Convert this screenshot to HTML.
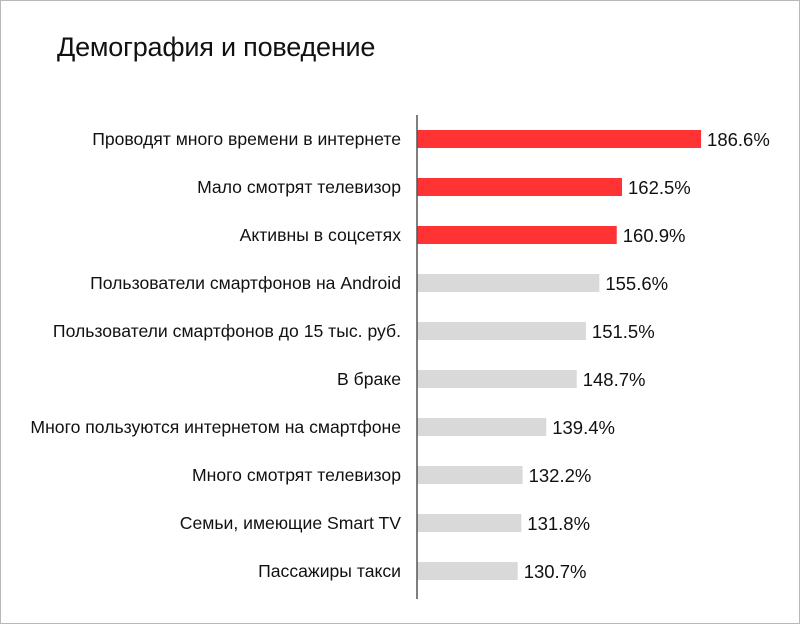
<!DOCTYPE html>
<html><head><meta charset="utf-8"><style>
body{margin:0;background:#fff}
#wrap{position:relative;width:798px;height:622px;border:1px solid #b8b8b8;background:#fff;overflow:hidden;font-family:"Liberation Sans",sans-serif}
#title{position:absolute;left:56px;top:31px;font-size:27px;color:#111;letter-spacing:-0.2px}
svg{position:absolute;left:0;top:0}
</style></head><body>
<div id="wrap">
<div id="title">Демография и поведение</div>
<svg id="chart" width="798" height="622"></svg>
</div>
<script>
const categories=["Проводят много времени в интернете","Мало смотрят телевизор","Активны в соцсетях","Пользователи смартфонов на Android","Пользователи смартфонов до 15 тыс. руб.","В браке","Много пользуются интернетом на смартфоне","Много смотрят телевизор","Семьи, имеющие Smart TV","Пассажиры такси"];
const values=[186.6,162.5,160.9,155.6,151.5,148.7,139.4,132.2,131.8,130.7];
const highlighted=[true,true,true,false,false,false,false,false,false,false];
const valueLabels=["186.6%","162.5%","160.9%","155.6%","151.5%","148.7%","139.4%","132.2%","131.8%","130.7%"];
const NS="http://www.w3.org/2000/svg";
const svg=document.getElementById('chart');
const x0=416, base=100, k=3.28;
const xs=v=>x0+(v-base)*k;
const yc=i=>138+i*48;
function mk(t,a){const e=document.createElementNS(NS,t);for(const n in a)e.setAttribute(n,a[n]);svg.appendChild(e);return e;}
categories.forEach((c,i)=>{
  const r=mk('rect',{x:x0,y:yc(i)-9,width:xs(values[i])-x0,height:18,fill:highlighted[i]?'#ff3333':'#d9d9d9'});
  
  
  const l=mk('text',{x:400,y:yc(i)+6,'text-anchor':'end','font-size':'17.6','fill':'#111','font-family':'Liberation Sans, sans-serif'});
  l.textContent=c;
  
  
  const v=mk('text',{x:xs(values[i])+6,y:yc(i)+7,'font-size':'18.5','fill':'#111','font-family':'Liberation Sans, sans-serif'});
  v.textContent=valueLabels[i];
  
  
});
const ax=mk('line',{x1:x0,x2:x0,y1:114,y2:598,stroke:'#555','stroke-width':1.5});


</script>
</body></html>
